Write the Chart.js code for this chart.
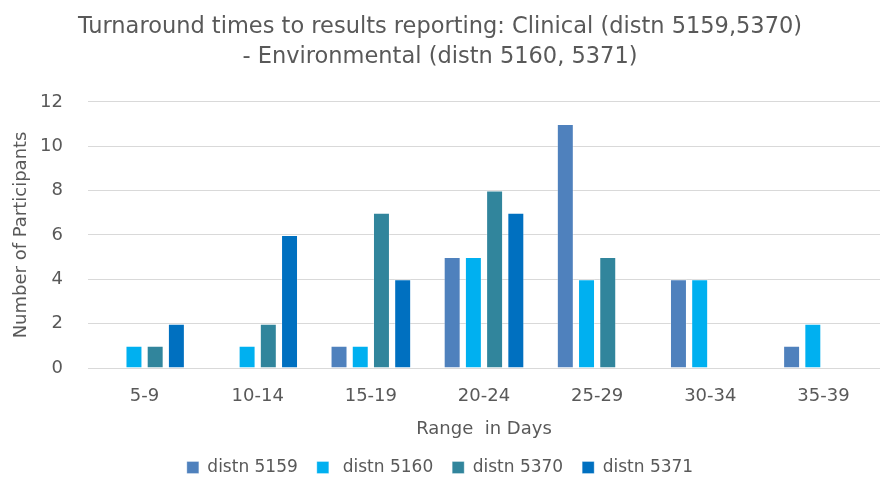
<!DOCTYPE html>
<html><head><meta charset="utf-8">
<script src="https://cdn.jsdelivr.net/npm/chart.js@4/dist/chart.umd.min.js"></script>
<style>html,body{margin:0;padding:0;background:#fff}#wrap{width:883px;height:504px}</style>
</head><body><div id="wrap"><canvas id="c" width="883" height="504"></canvas></div>
<script>
const categories = ["5-9","10-14","15-19","20-24","25-29","30-34","35-39"];
const distn5159 = [0,0,1,5,11,4,1];
const distn5160 = [1,1,1,5,4,4,2];
const distn5370 = [1,2,7,8,5,0,0];
const distn5371 = [2,6,4,7,0,0,0];
const seriesNames = ["distn 5159"," distn 5160","distn 5370","distn 5371"];
const titleLines = ["Turnaround times to results reporting: Clinical (distn 5159,5370)","- Environmental (distn 5160, 5371)"];
const FONT = "'DejaVu Sans',sans-serif";
const TXT = '#595959';
const colors = ['#4f81bd','#00b0f0','#31859c','#0070c0'];
const mk = (i, d) => ({label: seriesNames[i], data: d, backgroundColor: colors[i], borderColor: 'rgba(255,255,255,0.3)', borderWidth: 1, categoryPercentage: 0.75, barPercentage: 0.8});
new Chart(document.getElementById('c'), {
  type: 'bar',
  data: {labels: categories, datasets: [mk(0,distn5159), mk(1,distn5160), mk(2,distn5370), mk(3,distn5371)]},
  options: {
    responsive: false, animation: false,
    layout: {padding: {left: 0, right: 3, top: 12, bottom: 18}},
    plugins: {
      title: {display: true, text: titleLines, color: TXT, font: {family: FONT, size: 22.5, weight: 'normal', lineHeight: 1.33}, padding: {top: 0, bottom: 30}},
      legend: {position: 'bottom', labels: {color: TXT, font: {family: FONT, size: 17}, boxWidth: 12, boxHeight: 12, padding: 19}},
      tooltip: {enabled: false}
    },
    scales: {
      x: {grid: {display: false}, border: {display: false}, afterFit: s => { s.height = 72; },
          ticks: {color: TXT, font: {family: FONT, size: 18}, padding: 10},
          title: {display: true, text: 'Range  in Days', color: TXT, font: {family: FONT, size: 18}, padding: {top: 0, bottom: 0}}},
      y: {min: 0, max: 12, afterFit: s => { s.width = 88; },
          ticks: {stepSize: 2, color: TXT, font: {family: FONT, size: 18}, padding: 25},
          grid: {color: '#d9d9d9', lineWidth: 1, drawTicks: false}, border: {display: false},
          title: {display: true, text: 'Number of Participants', color: TXT, font: {family: FONT, size: 18}, padding: {top: 11, bottom: 0}}}
    }
  }
});
</script></body></html>
